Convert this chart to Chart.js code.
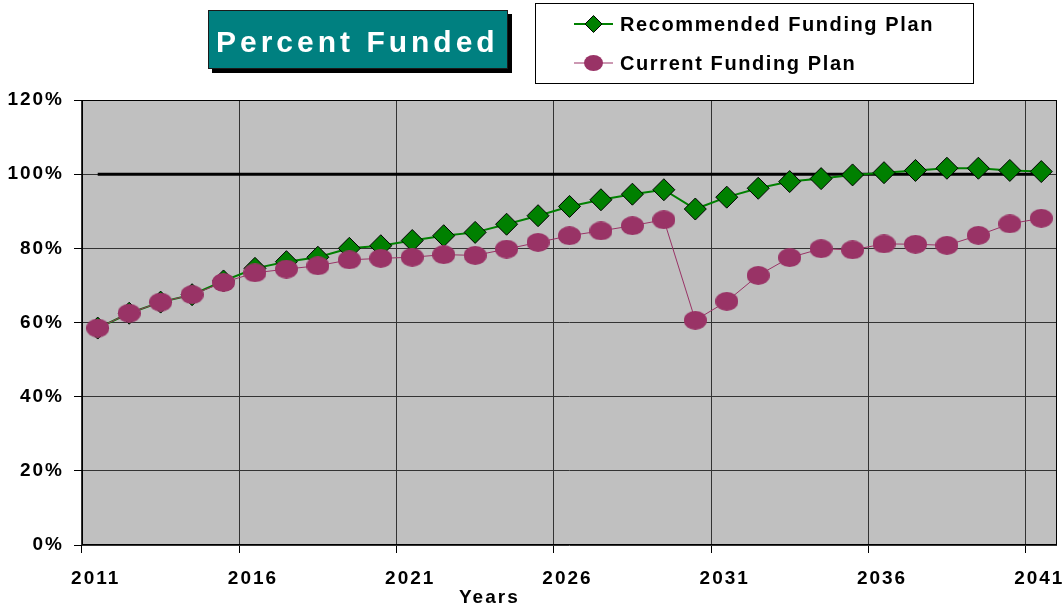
<!DOCTYPE html>
<html>
<head>
<meta charset="utf-8">
<script src="https://cdn.jsdelivr.net/npm/chart.js@4.4.0/dist/chart.umd.min.js"></script>
<style>
  body { margin: 0; background: #ffffff; }
  #wrap { width: 1064px; height: 610px; position: relative; }
</style>
</head>
<body>
<div id="wrap"><canvas id="funded"></canvas></div>
<script>
// values (percent funded)
var years = ['2011','2012','2013','2014','2015','2016','2017','2018','2019','2020',
             '2021','2022','2023','2024','2025','2026','2027','2028','2029','2030',
             '2031','2032','2033','2034','2035','2036','2037','2038','2039','2040','2041'];
var recommended = [58.5, 62.5, 65.5, 67.5, 71.2, 74.6, 76.4, 77.6, 80.0, 80.7,
                   82.1, 83.4, 84.3, 86.5, 88.8, 91.3, 93.1, 94.6, 95.8, 90.6,
                   93.8, 96.2, 98.0, 98.8, 99.8, 100.4, 101.0, 101.6, 101.6, 101.0, 100.7];
var current = [58.5, 62.5, 65.5, 67.5, 70.8, 73.4, 74.4, 75.3, 76.9, 77.3,
               77.6, 78.3, 78.1, 79.8, 81.6, 83.4, 84.7, 86.1, 87.7, 60.6,
               65.7, 72.7, 77.5, 79.9, 79.6, 81.2, 81.1, 80.8, 83.5, 86.6, 88.1];
var target = [100, 100, 100, 100, 100, 100, 100, 100, 100, 100,
              100, 100, 100, 100, 100, 100, 100, 100, 100, 100,
              100, 100, 100, 100, 100, 100, 100, 100, 100, 100, 100];
var yTicks = [0, 20, 40, 60, 80, 100, 120];

var green = '#008000';
var plum = '#993366';
var teal = '#008080';
var spacing = '2px';
var fontFamily = '"Liberation Sans", Arial, sans-serif';

// ellipse marker (the pink dots are wider than tall)
function makeEllipse(w, h) {
    var c = document.createElement('canvas');
    c.width = w;
    c.height = h;
    var g = c.getContext('2d');
    g.fillStyle = plum;
    g.beginPath();
    g.ellipse(w / 2, h / 2, w / 2, h / 2, 0, 0, Math.PI * 2);
    g.fill();
    return c;
}
var dot = makeEllipse(23, 19);
var smallDot = makeEllipse(19, 16);

// spacing only at draw time, so the layout is measured on plain widths
var letterSpacing = {
    id: 'letterSpacing',
    beforeUpdate: function (chart) { chart.ctx.letterSpacing = '0px'; },
    beforeDraw: function (chart) {
        chart.ctx.letterSpacing = spacing;
        var a = chart.chartArea;
        chart.ctx.save();
        chart.ctx.fillStyle = '#c0c0c0';
        chart.ctx.fillRect(a.left, a.top, a.right - a.left, a.bottom - a.top);
        chart.ctx.restore();
    },
    beforeDatasetsDraw: function (chart) {
        var a = chart.chartArea;
        var ctx = chart.ctx;
        ctx.save();
        ctx.strokeStyle = '#000';
        ctx.lineWidth = 1;
        ctx.strokeRect(a.left + 0.5, a.top + 0.5, a.right - a.left - 1, a.bottom - a.top - 1);
        ctx.restore();
    }
};

// title box, legend box and the "Years" caption
var decorations = {
    id: 'decorations',
    afterDraw: function (chart) {
        var ctx = chart.ctx;
        ctx.save();

        ctx.fillStyle = '#000';
        ctx.fillRect(212, 14, 300, 59);
        ctx.fillStyle = teal;
        ctx.fillRect(208, 10, 300, 59);
        ctx.strokeStyle = '#1a1a1a';
        ctx.lineWidth = 1;
        ctx.strokeRect(208.5, 10.5, 299, 58);
        ctx.fillStyle = '#fff';
        ctx.font = 'bold 30px ' + fontFamily;
        ctx.letterSpacing = '4px';
        ctx.textBaseline = 'alphabetic';
        ctx.textAlign = 'left';
        ctx.fillText('Percent Funded', 216, 52);

        ctx.fillStyle = '#fff';
        ctx.fillRect(535, 3, 439, 80);
        ctx.strokeStyle = '#000';
        ctx.strokeRect(535.5, 3.5, 438, 80);

        var rows = [
            { label: 'Recommended Funding Plan', y: 24, color: green, width: 2, marker: 'diamond' },
            { label: 'Current Funding Plan', y: 63, color: plum, width: 1, marker: 'dot' }
        ];
        rows.forEach(function (r) {
            ctx.strokeStyle = r.color;
            ctx.lineWidth = r.width;
            ctx.beginPath();
            ctx.moveTo(574, r.y);
            ctx.lineTo(613, r.y);
            ctx.stroke();
            if (r.marker === 'diamond') {
                ctx.fillStyle = green;
                ctx.strokeStyle = '#000';
                ctx.lineWidth = 1;
                ctx.beginPath();
                ctx.moveTo(593.5, r.y - 8.5);
                ctx.lineTo(602, r.y);
                ctx.lineTo(593.5, r.y + 8.5);
                ctx.lineTo(585, r.y);
                ctx.closePath();
                ctx.fill();
                ctx.stroke();
            } else {
                ctx.drawImage(smallDot, 584, r.y - 8);
            }
            ctx.fillStyle = '#000';
            ctx.font = 'bold 20px ' + fontFamily;
            ctx.letterSpacing = '1.6px';
            ctx.textBaseline = 'middle';
            ctx.fillText(r.label, 620, r.y + 1);
        });

        ctx.font = 'bold 19px ' + fontFamily;
        ctx.letterSpacing = '2px';
        ctx.textBaseline = 'middle';
        ctx.fillText('Years', 459, 598);
        ctx.restore();
        ctx.letterSpacing = '0px';
    }
};

var ctx = document.getElementById('funded').getContext('2d');
var fundedChart = new Chart(ctx, {
    type: 'line',
    data: {
        labels: years,
        datasets: [{
            label: 'Recommended Funding Plan',
            data: recommended,
            borderColor: green,
            borderWidth: 2,
            pointStyle: 'rectRot',
            pointRadius: 11,
            pointBackgroundColor: green,
            pointBorderColor: '#000',
            pointBorderWidth: 1,
            order: 1
        }, {
            label: 'Current Funding Plan',
            data: current,
            borderColor: plum,
            borderWidth: 1,
            pointStyle: dot,
            pointRadius: 11,
            order: 0
        }, {
            label: '100%',
            data: target,
            borderColor: '#000',
            borderWidth: 3,
            pointRadius: 0,
            order: 2
        }]
    },
    options: {
        responsive: true,
        maintainAspectRatio: false,
        animation: false,
        events: [],
        layout: { autoPadding: false, padding: { top: 100, right: 7, bottom: 0, left: 0 } },
        plugins: {
            legend: { display: false },
            tooltip: { enabled: false }
        },
        scales: {
            x: {
                offset: true,
                afterFit: function (scale) {
                    scale.height = 65;
                    scale.paddingLeft = 0;
                    scale.paddingRight = 0;
                },
                border: { display: false },
                grid: {
                    offset: true,
                    tickLength: 8,
                    color: function (c) { return c.index % 5 === 0 ? '#333' : 'rgba(0,0,0,0)'; },
                    tickColor: function (c) { return c.index % 5 === 0 ? '#000' : 'rgba(0,0,0,0)'; }
                },
                ticks: {
                    autoSkip: false,
                    maxRotation: 0,
                    padding: 14,
                    labelOffset: -2,
                    color: '#000',
                    font: { family: fontFamily, size: 19, weight: 'bold' },
                    callback: function (v, i) { return i % 5 === 0 ? years[i] : ''; }
                }
            },
            y: {
                min: yTicks[0],
                max: yTicks[yTicks.length - 1],
                afterFit: function (scale) {
                    scale.width = 82;
                    scale.paddingTop = 0;
                    scale.paddingBottom = 0;
                },
                afterBuildTicks: function (scale) {
                    scale.ticks = yTicks.map(function (v) { return { value: v }; });
                },
                border: { display: false },
                grid: { color: '#333', tickLength: 8, tickColor: '#000' },
                ticks: {
                    padding: 10,
                    color: '#000',
                    font: { family: fontFamily, size: 19, weight: 'bold' },
                    callback: function (v) { return v + '%'; }
                }
            }
        }
    },
    plugins: [letterSpacing, decorations]
});
</script>
</body>
</html>
